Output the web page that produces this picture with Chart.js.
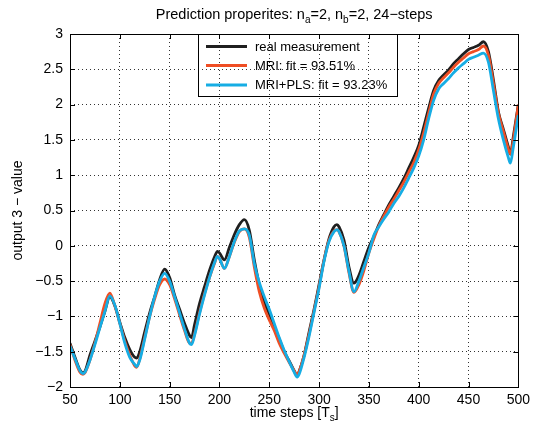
<!DOCTYPE html>
<html>
<head>
<meta charset="utf-8">
<script src="https://cdn.jsdelivr.net/npm/chart.js@4"></script>
<style>
  html, body { margin: 0; padding: 0; background: #fff; }
  #c { display: block; }
</style>
</head>
<body>
<canvas id="c" width="535" height="432"></canvas>
<script>
// ---- data ----
const steps = [
  50, 55, 60, 63, 65, 70, 75, 80, 85, 90,
  95, 100, 105, 110, 115, 117, 120, 125, 130, 135,
  140, 145, 150, 155, 160, 165, 170, 172, 175, 180,
  185, 190, 195, 198, 200, 205, 210, 215, 220, 225,
  230, 235, 240, 245, 250, 255, 260, 265, 270, 275,
  278, 280, 285, 290, 295, 300, 305, 310, 315, 318,
  320, 325, 330, 335, 340, 345, 350, 355, 360, 365,
  370, 375, 380, 385, 390, 395, 400, 405, 410, 415,
  420, 425, 430, 435, 440, 445, 450, 455, 460, 465,
  470, 475, 480, 485, 490, 492, 495, 500
];
const realMeasurement = [
  -1.38, -1.58, -1.76, -1.80, -1.78, -1.55, -1.35, -1.15, -0.93, -0.72,
  -0.85, -1.08, -1.30, -1.47, -1.58, -1.59, -1.50, -1.22, -0.95, -0.72,
  -0.48, -0.33, -0.45, -0.70, -0.90, -1.10, -1.27, -1.30, -1.12, -0.82,
  -0.58, -0.35, -0.16, -0.08, -0.10, -0.20, -0.02, 0.16, 0.30, 0.37,
  0.22, -0.20, -0.55, -0.80, -0.97, -1.15, -1.32, -1.50, -1.63, -1.77,
  -1.84, -1.78, -1.55, -1.22, -0.90, -0.55, -0.20, 0.10, 0.27, 0.30,
  0.27, 0.08, -0.30, -0.53, -0.42, -0.22, -0.02, 0.13, 0.30, 0.44,
  0.58, 0.70, 0.82, 0.95, 1.10, 1.25, 1.42, 1.68, 1.95, 2.20,
  2.34, 2.42, 2.49, 2.58, 2.65, 2.72, 2.78, 2.81, 2.84, 2.89,
  2.75, 2.35, 1.90, 1.65, 1.40, 1.30, 1.55, 2.00
];
const mriPrediction = [
  -1.40, -1.62, -1.79, -1.82, -1.80, -1.62, -1.38, -1.10, -0.82, -0.67,
  -0.85, -1.10, -1.35, -1.55, -1.70, -1.72, -1.60, -1.30, -1.00, -0.75,
  -0.55, -0.47, -0.55, -0.75, -0.98, -1.20, -1.38, -1.38, -1.25, -0.95,
  -0.68, -0.45, -0.25, -0.15, -0.18, -0.32, -0.15, 0.05, 0.20, 0.24,
  0.12, -0.30, -0.65, -0.88, -1.05, -1.20, -1.38, -1.52, -1.65, -1.77,
  -1.82, -1.78, -1.55, -1.25, -0.92, -0.58, -0.20, 0.08, 0.21, 0.23,
  0.20, 0.00, -0.38, -0.66, -0.55, -0.35, -0.10, 0.10, 0.28, 0.42,
  0.55, 0.66, 0.78, 0.90, 1.04, 1.18, 1.36, 1.60, 1.88, 2.15,
  2.30, 2.38, 2.45, 2.53, 2.60, 2.66, 2.72, 2.75, 2.78, 2.83,
  2.70, 2.30, 1.88, 1.62, 1.37, 1.30, 1.50, 2.00
];
const mriPlsPrediction = [
  -1.42, -1.60, -1.77, -1.81, -1.79, -1.62, -1.40, -1.16, -0.93, -0.71,
  -0.84, -1.10, -1.38, -1.58, -1.68, -1.71, -1.62, -1.32, -1.00, -0.72,
  -0.50, -0.39, -0.50, -0.72, -0.95, -1.18, -1.38, -1.40, -1.27, -0.97,
  -0.70, -0.45, -0.24, -0.15, -0.18, -0.32, -0.15, 0.06, 0.21, 0.24,
  0.15, -0.25, -0.52, -0.72, -0.90, -1.10, -1.30, -1.48, -1.64, -1.79,
  -1.86, -1.82, -1.58, -1.28, -0.94, -0.60, -0.22, 0.06, 0.20, 0.23,
  0.20, 0.00, -0.36, -0.65, -0.50, -0.30, -0.10, 0.15, 0.27, 0.38,
  0.48, 0.60, 0.70, 0.82, 0.96, 1.10, 1.27, 1.50, 1.80, 2.06,
  2.22, 2.30, 2.37, 2.45, 2.52, 2.58, 2.64, 2.67, 2.70, 2.73,
  2.60, 2.20, 1.80, 1.50, 1.25, 1.17, 1.40, 1.85
];
const seriesLabels = ['real measurement', 'MRI: fit = 93.51%', 'MRI+PLS: fit = 93.23%'];
const xTicks = [50, 100, 150, 200, 250, 300, 350, 400, 450, 500];
const yTicks = [-2, -1.5, -1, -0.5, 0, 0.5, 1, 1.5, 2, 2.5, 3];

// ---- styling ----
const COLORS = ['#1f1f1f', '#ef4e24', '#16ade4'];
const FONT = '"Liberation Sans", Arial, Helvetica, sans-serif';

function toPoints(ys) { return ys.map((y, i) => ({ x: steps[i], y: y })); }
function fmt(v) { return String(v).replace('-', '\u2212'); }

function drawRich(ctx, parts, x, y, align, size) {
  const subSize = Math.round(size * 0.72);
  let total = 0;
  const widths = parts.map(p => {
    ctx.font = (p.sub ? subSize : size) + 'px ' + FONT;
    const w = ctx.measureText(p.t).width;
    total += w;
    return w;
  });
  let cx = align === 'center' ? x - total / 2 : x;
  ctx.textAlign = 'left';
  ctx.textBaseline = 'alphabetic';
  parts.forEach((p, i) => {
    ctx.font = (p.sub ? subSize : size) + 'px ' + FONT;
    ctx.fillText(p.t, cx, y + (p.sub ? 3.5 : 0));
    cx += widths[i];
  });
}

const decor = {
  id: 'decor',
  afterDatasetsDraw(chart) {
    const ctx = chart.ctx;
    const a = chart.chartArea;
    const xs = chart.scales.x, ys = chart.scales.y;
    ctx.save();
    // frame
    ctx.strokeStyle = '#000';
    ctx.lineWidth = 1;
    ctx.setLineDash([]);
    ctx.strokeRect(Math.round(a.left) + 0.5, Math.round(a.top) + 0.5,
                   Math.round(a.right - a.left), Math.round(a.bottom - a.top));
    // inward ticks
    const tl = 5;
    ctx.beginPath();
    xTicks.forEach(v => {
      const px = Math.round(xs.getPixelForValue(v)) + 0.5;
      ctx.moveTo(px, a.bottom); ctx.lineTo(px, a.bottom - tl);
      ctx.moveTo(px, a.top); ctx.lineTo(px, a.top + tl);
    });
    yTicks.forEach(v => {
      const py = Math.round(ys.getPixelForValue(v)) + 0.5;
      ctx.moveTo(a.left, py); ctx.lineTo(a.left + tl, py);
      ctx.moveTo(a.right, py); ctx.lineTo(a.right - tl, py);
    });
    ctx.stroke();

    // legend
    const lx = 198.5, ly = 34.5, lw = 199, lh = 62;
    ctx.strokeRect(lx, ly, lw, lh);
    const rows = [46.5, 65.5, 85];
    ctx.font = '13px ' + FONT;
    ctx.textBaseline = 'middle';
    ctx.textAlign = 'left';
    rows.forEach((ry, i) => {
      ctx.strokeStyle = COLORS[i];
      ctx.lineWidth = 3;
      ctx.beginPath();
      ctx.moveTo(206, ry); ctx.lineTo(247, ry);
      ctx.stroke();
      ctx.fillStyle = '#000';
      ctx.fillText(seriesLabels[i], 255, ry + 0.5);
    });

    // title
    ctx.fillStyle = '#000';
    drawRich(ctx, [
      { t: 'Prediction properites: n' }, { t: 'a', sub: true },
      { t: '=2, n' }, { t: 'b', sub: true }, { t: '=2, 24\u2212steps' }
    ], (a.left + a.right) / 2, 19, 'center', 14.5);

    // x label
    drawRich(ctx, [
      { t: 'time steps [T' }, { t: 's', sub: true }, { t: ']' }
    ], (a.left + a.right) / 2, 417, 'center', 14);

    // y label
    ctx.save();
    ctx.translate(22, (a.top + a.bottom) / 2);
    ctx.rotate(-Math.PI / 2);
    ctx.font = '14px ' + FONT;
    ctx.textAlign = 'center';
    ctx.textBaseline = 'alphabetic';
    ctx.fillText('output 3 \u2212 value', 0, 0);
    ctx.restore();

    ctx.restore();
  }
};

const mkDs = (label, ys, color, order) => ({
  label: label,
  data: toPoints(ys),
  borderColor: color,
  backgroundColor: color,
  borderWidth: 2.8,
  pointRadius: 0,
  fill: false,
  cubicInterpolationMode: 'monotone',
  order: order
});

new Chart(document.getElementById('c'), {
  type: 'line',
  data: {
    datasets: [
      mkDs(seriesLabels[0], realMeasurement, COLORS[0], 3),
      mkDs(seriesLabels[1], mriPrediction, COLORS[1], 2),
      mkDs(seriesLabels[2], mriPlsPrediction, COLORS[2], 1)
    ]
  },
  options: {
    responsive: false,
    animation: false,
    devicePixelRatio: 1,
    layout: { padding: { left: 0, top: 34, right: 15, bottom: 0 } },
    plugins: { legend: { display: false }, tooltip: { enabled: false }, title: { display: false } },
    scales: {
      x: {
        type: 'linear',
        min: 50, max: 500,
        afterBuildTicks: s => { s.ticks = xTicks.map(v => ({ value: v })); },
        afterFit: s => { s.height = 45; },
        ticks: { color: '#000', font: { size: 14, family: FONT }, padding: 5, maxRotation: 0, autoSkip: false,
                 callback: v => fmt(v) },
        grid: { color: 'rgba(0,0,0,0.8)', lineWidth: 1, drawTicks: false },
        border: { display: false, dash: [1, 3] }
      },
      y: {
        type: 'linear',
        min: -2, max: 3,
        afterBuildTicks: s => { s.ticks = yTicks.map(v => ({ value: v })); },
        afterFit: s => { s.width = 70; },
        ticks: { color: '#000', font: { size: 14, family: FONT }, padding: 7, autoSkip: false,
                 callback: v => fmt(v) },
        grid: { color: 'rgba(0,0,0,0.8)', lineWidth: 1, drawTicks: false },
        border: { display: false, dash: [1, 3] }
      }
    }
  },
  plugins: [decor]
});
</script>
</body>
</html>
